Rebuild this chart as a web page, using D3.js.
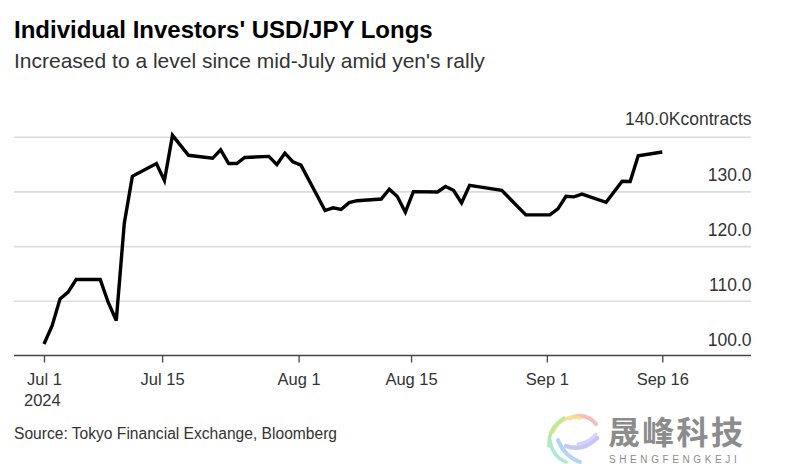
<!DOCTYPE html>
<html>
<head>
<meta charset="utf-8">
<script src="https://cdn.jsdelivr.net/npm/d3@7"></script>
<style>
  html, body { margin: 0; padding: 0; background: #fff; }
  svg { display: block; font-family: "Liberation Sans", Arial, sans-serif; }
  .grid .domain { display: none; }
  .grid line { stroke: #dcdcdc; stroke-width: 1.6px; }
  .grid text { font-size: 17.5px; fill: #333; }
  .xaxis text { font-size: 16.5px; fill: #333; }
  .xaxis line, .xaxis .domain { stroke: #444; stroke-width: 1.3px; }
</style>
</head>
<body>
<svg id="chart" width="798" height="464"></svg>
<script>
const dates = [
  "2024-07-01","2024-07-02","2024-07-03","2024-07-04","2024-07-05","2024-07-06","2024-07-07","2024-07-08",
  "2024-07-09","2024-07-10","2024-07-11","2024-07-12","2024-07-15","2024-07-16","2024-07-17","2024-07-19",
  "2024-07-22","2024-07-23","2024-07-24","2024-07-25","2024-07-26","2024-07-29","2024-07-30","2024-07-31",
  "2024-08-01","2024-08-02","2024-08-05","2024-08-06","2024-08-07","2024-08-08","2024-08-09","2024-08-12",
  "2024-08-13","2024-08-14","2024-08-15","2024-08-16","2024-08-19","2024-08-20","2024-08-21","2024-08-22",
  "2024-08-23","2024-08-27","2024-08-30","2024-09-02","2024-09-03","2024-09-04","2024-09-05","2024-09-06",
  "2024-09-09","2024-09-11","2024-09-12","2024-09-13","2024-09-16"
];
const longs = [
  102.1,105.4,110.35,111.6,113.9,113.9,113.9,113.9,
  109.7,106.4,124.2,132.75,135.1,132.0,140.25,136.6,
  136.05,137.6,135.1,135.1,136.2,136.4,134.9,137.0,
  135.4,134.8,126.5,127.0,126.7,127.95,128.3,128.6,
  130.4,129.05,126.2,129.95,129.9,130.9,130.2,127.9,
  131.1,130.2,125.7,125.7,126.8,129.1,129.0,129.5,
  128.0,131.85,131.8,136.5,137.2
];
const yTicks = [100, 110, 120, 130, 140];
const xTickDates = ["2024-07-01T00:00","2024-07-15T17:00","2024-08-01T17:00","2024-08-15T17:00","2024-09-01T15:00","2024-09-16T00:00"];
const xTickLabels = ["Jul 1","Jul 15","Aug 1","Aug 15","Sep 1","Sep 16"];

const svg = d3.select("#chart");
const parseDay = d3.timeParse("%Y-%m-%d");
const parseTick = d3.timeParse("%Y-%m-%dT%H:%M");

const x = d3.scaleTime()
  .domain([parseDay(dates[0]), parseDay(dates[dates.length - 1])])
  .range([44, 662.3]);
const y = d3.scaleLinear().domain([100, 140]).range([355.5, 136.7]);

// gridlines and the right hand labels, labels sit on top of each line
const grid = svg.append("g")
  .attr("class", "grid")
  .attr("transform", "translate(751,0)")
  .call(d3.axisLeft(y).tickValues(yTicks).tickSize(737).tickFormat(d => d3.format(".1f")(d)));
grid.selectAll("text")
  .attr("x", 0.5)
  .attr("dy", 0)
  .attr("y", d => d === 140 ? -12 : -10.5)
  .attr("text-anchor", "end")
  .text(d => d === 140 ? "140.0Kcontracts" : d3.format(".1f")(d));
grid.selectAll(".tick").filter(d => d === 100).select("line").remove();

const xAxis = svg.append("g")
  .attr("class", "xaxis")
  .attr("transform", "translate(0,355.5)")
  .call(d3.axisBottom(x)
    .tickValues(xTickDates.map(parseTick))
    .tickSize(7)
    .tickSizeOuter(0)
    .tickFormat((d, i) => xTickLabels[i]));
xAxis.select(".domain").attr("d", "M14,0H751");
xAxis.selectAll("text").attr("y", 18).attr("dy", "0.71em");

svg.append("text").attr("x", 24).attr("y", 406).attr("font-size", 16.5).attr("fill", "#333").text("2024");

const line = d3.line()
  .x((d, i) => x(parseDay(dates[i])))
  .y(d => y(d));

svg.append("path")
  .datum(longs)
  .attr("d", line)
  .attr("fill", "none")
  .attr("stroke", "#000")
  .attr("stroke-width", 3.4)
  .attr("stroke-linejoin", "miter");

svg.append("text").attr("x", 14).attr("y", 38).attr("font-size", 24).attr("font-weight", 700).attr("fill", "#000")
  .text("Individual Investors' USD/JPY Longs");
svg.append("text").attr("x", 14).attr("y", 68).attr("font-size", 21).attr("fill", "#333")
  .text("Increased to a level since mid-July amid yen's rally");
svg.append("text").attr("x", 14).attr("y", 439).attr("font-size", 15.6).attr("fill", "#333")
  .text("Source: Tokyo Financial Exchange, Bloomberg");

// watermark logo
const logo = svg.append("g").attr("fill", "none").attr("stroke-linecap", "round").attr("opacity", 0.75);
[
  ["#f7a8a0", "M596,424 Q586,412 570,418", 4],
  ["#fbd36b", "M580,418 Q562,414 553,432", 3.5],
  ["#a8e27c", "M564,418 Q548,428 549,446", 3.5],
  ["#8fe0d0", "M550,440 Q552,456 566,462", 3.5],
  ["#9cc8f5", "M558,440 Q564,456 580,462", 4],
  ["#b4b4f5", "M566,446 Q582,452 597,438", 4.5],
  ["#c9c4f7", "M578,444 Q590,442 596,434", 3]
].forEach(([color, d, w]) => logo.append("path").attr("d", d).attr("stroke", color).attr("stroke-width", w));

svg.append("text").attr("x", 608).attr("y", 444).attr("font-size", 32).attr("font-weight", 700)
  .attr("letter-spacing", 2.3).attr("font-family", "'Noto Sans CJK SC'").attr("fill", "#8c8c8c").text("晟峰科技");
svg.append("text").attr("x", 609).attr("y", 463).attr("font-size", 10).attr("letter-spacing", 3.6)
  .attr("fill", "#8c8c8c").text("SHENGFENGKEJI");
</script>
</body>
</html>
